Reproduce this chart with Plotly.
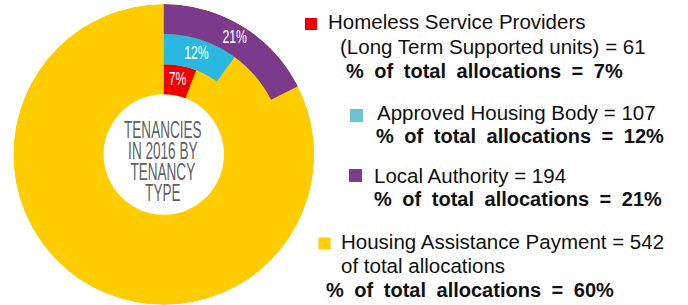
import json
import plotly.graph_objects as go

# ---- data ----
categories = ["Homeless Service Providers", "Approved Housing Body", "Local Authority", "Housing Assistance Payment"]
counts = [61, 107, 194, 542]
percents = [7, 12, 21, 60]
center_title = ["TENANCIES", "IN 2016 BY", "TENANCY", "TYPE"]

# ---- styles ----
W, H = 688, 305
wedge_colors = ["#EE0000", "#29B9E0", "#7B3A8C", "#FFCC00"]
legend_colors = ["#EE0000", "#6EC1CF", "#7E3A8E", "#FFCC00"]
DEG_PER_PCT = 3.0
HOLE = 2.0
RING = 1.0
OUTER = 5.0
TOP = 4
CX, CY = 163.8, 154.5   # pixel center of the donut
RAD = 150.5

fig = go.Figure()

# background ring (Housing Assistance Payment)
fig.add_trace(go.Barpolar(
    r=[OUTER - HOLE], base=[HOLE], theta=[180], width=[360],
    marker=dict(color=wedge_colors[3], line=dict(width=0)),
    hoverinfo="skip", showlegend=False))

# stacked arcs for the other three
for i in range(3):
    ang = percents[i] * DEG_PER_PCT
    fig.add_trace(go.Barpolar(
        r=[RING], base=[HOLE + i * RING], theta=[ang / 2], width=[ang],
        marker=dict(color=wedge_colors[i], line=dict(width=0)),
        hoverinfo="skip", showlegend=False))

# percentage labels
lab_r, lab_t, lab_s = [], [], []
for i in range(3):
    ang = percents[i] * DEG_PER_PCT
    lab_r.append(HOLE + i * RING + RING / 2)
    lab_t.append(ang / 2)
    lab_s.append(f"{percents[i]}%")
fig.add_trace(go.Scatterpolar(
    r=lab_r, theta=lab_t, text=lab_s, mode="text",
    textfont=dict(family="Arial, Liberation Sans", size=18, color="white"),
    hoverinfo="skip", showlegend=False))

fig.update_layout(
    width=W, height=H,
    margin=dict(l=0, r=0, t=TOP, b=0),
    paper_bgcolor="white", plot_bgcolor="white",
    polar=dict(
        domain=dict(x=[(CX - RAD) / W, (CX + RAD) / W], y=[0, 1]),
        bgcolor="rgba(0,0,0,0)",
        radialaxis=dict(range=[0, OUTER], visible=False),
        angularaxis=dict(visible=False, direction="clockwise", rotation=90),
    ),
    showlegend=False,
)

def px_x(x):
    return x / W

def px_y(y):
    return 1 - (y - TOP) / (H - TOP)

# center title (one text block; line pitch tightened in post script)
CFS = 23
fig.add_annotation(
    x=px_x(163), y=px_y(116), xref="paper", yref="paper",
    text="<br>".join(center_title), showarrow=False,
    font=dict(family="Arial, Liberation Sans", size=CFS, color="#5F5F5F"),
    xanchor="center", yanchor="top", align="center", borderpad=0)

# legend text lines: (text, x_left, baseline_y, bold)
lines = [
    (categories[0], 327, 29, False),
    (f"(Long Term Supported units) = {counts[0]}", 339, 54, False),
    (f"% of total allocations = {percents[0]}%", 345, 78, True),
    (f"{categories[1]} = {counts[1]}", 376, 120, False),
    (f"% of total allocations = {percents[1]}%", 375, 143, True),
    (f"{categories[2]} = {counts[2]}", 373, 183, False),
    (f"% of total allocations = {percents[2]}%", 373, 206, True),
    (f"{categories[3]} = {counts[3]}", 340, 249, False),
    ("of total allocations", 340, 273, False),
    (f"% of total allocations = {percents[3]}%", 325, 297, True),
]
for txt, x0, base, bold in lines:
    fs = 20 if bold else 20.5
    fig.add_annotation(
        x=px_x(x0), y=px_y(base - 0.35 * fs), xref="paper", yref="paper",
        text=f"<b>{txt}</b>" if bold else txt, showarrow=False,
        font=dict(family="Arial, Liberation Sans", size=fs, color="#111111"),
        xanchor="left", yanchor="middle", align="left", borderpad=0)

# legend squares
squares = [(311, 24, 12), (356.5, 115.5, 13), (355.5, 175.5, 13), (324.5, 243.5, 12)]
for (sx, sy, ss), col in zip(squares, legend_colors):
    fig.add_shape(type="rect", xref="paper", yref="paper",
                  x0=px_x(sx - ss / 2), x1=px_x(sx + ss / 2),
                  y0=px_y(sy + ss / 2), y1=px_y(sy - ss / 2),
                  fillcolor=col, line=dict(width=0))

post = """
document.body.style.margin='0';
document.body.style.padding='0';
var gd=document.getElementById('{plot_id}');
var FIRST=""" + json.dumps(center_title[0]) + """;
function fix(){
  gd.querySelectorAll('text').forEach(function(t){
    var s=t.textContent;
    if(s.indexOf(FIRST)===0){
      var sp=t.querySelectorAll('tspan.line');
      for(var i=0;i<sp.length;i++){ sp[i].setAttribute('dy',(i*0.913)+'em'); }
      t.style.transformBox='fill-box'; t.style.transformOrigin='center';
      t.style.transform='scaleX(0.59)';
    } else if(/^[0-9]+%$/.test(s)){
      t.style.transformBox='fill-box'; t.style.transformOrigin='center';
      t.style.transform='scaleX(0.68)';
    } else if(s.indexOf('% of total')===0){
      t.style.wordSpacing='5px';
    }
  });
}
fix();
setTimeout(fix, 0);
if(gd.on){ gd.on('plotly_afterplot', fix); }
"""

fig.write_html("out.html", post_script=post, config={"displayModeBar": False})
